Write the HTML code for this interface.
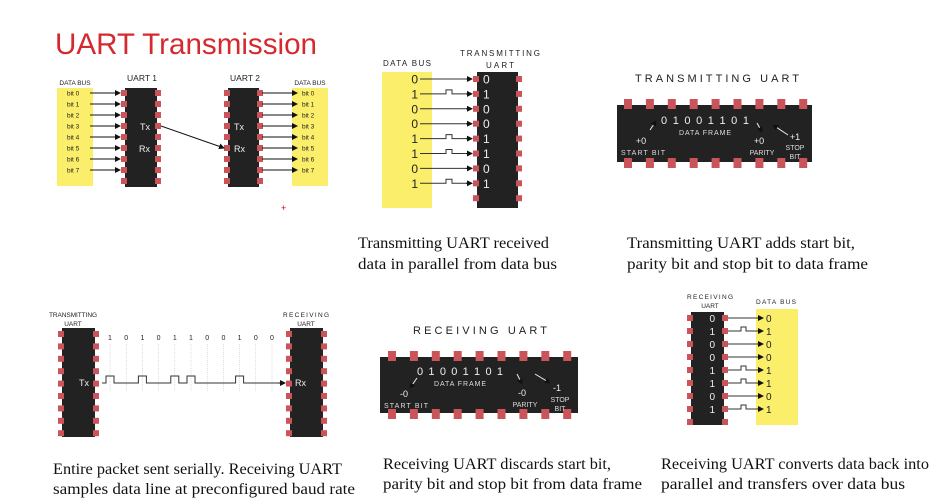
<!DOCTYPE html>
<html><head><meta charset="utf-8"><style>
html,body{margin:0;padding:0;background:#fff;}
svg{display:block;}
.cap{font-family:"Liberation Serif",serif;font-size:15.5px;fill:#111;}
</style></head><body>
<svg id="s" width="934" height="502" viewBox="0 0 934 502" xmlns="http://www.w3.org/2000/svg">
<defs><marker id="ah" markerWidth="6" markerHeight="6" refX="5" refY="3" orient="auto"><path d="M0,0 L6,3 L0,6 z" fill="#111"/></marker></defs>
<text x="55" y="54" font-family="Liberation Sans,sans-serif" font-size="30" fill="#d42a2f" textLength="262" lengthAdjust="spacingAndGlyphs">UART Transmission</text>
<g id="g"></g>
<text class="cap" x="358" y="248" textLength="191" lengthAdjust="spacingAndGlyphs">Transmitting UART received</text>
<text class="cap" x="358" y="269" textLength="199" lengthAdjust="spacingAndGlyphs">data in parallel from data bus</text>
<text class="cap" x="627" y="248" textLength="228" lengthAdjust="spacingAndGlyphs">Transmitting UART adds start bit,</text>
<text class="cap" x="627" y="269" textLength="241" lengthAdjust="spacingAndGlyphs">parity bit and stop bit to data frame</text>
<text class="cap" x="53" y="474" textLength="289" lengthAdjust="spacingAndGlyphs">Entire packet sent serially. Receiving UART</text>
<text class="cap" x="53" y="494" textLength="302" lengthAdjust="spacingAndGlyphs">samples data line at preconfigured baud rate</text>
<text class="cap" x="383" y="469" textLength="228" lengthAdjust="spacingAndGlyphs">Receiving UART discards start bit,</text>
<text class="cap" x="383" y="489" textLength="259" lengthAdjust="spacingAndGlyphs">parity bit and stop bit from data frame</text>
<text class="cap" x="661" y="469" textLength="268" lengthAdjust="spacingAndGlyphs">Receiving UART converts data back into</text>
<text class="cap" x="661" y="489" textLength="244" lengthAdjust="spacingAndGlyphs">parallel and transfers over data bus</text>
<text x="281" y="211" font-size="9" fill="#d00" font-family="Liberation Sans,sans-serif">+</text>
</svg>
<script>
const busBits=[0,1,0,0,1,1,0,1];
const serialBits=[1,0,1,0,1,1,0,0,1,0,0];
const frameText="0 1 0 0 1 1 0 1";
const NS="http://www.w3.org/2000/svg";
const G=document.getElementById('g');
function mk(tag,at,txt){const e=document.createElementNS(NS,tag);for(const k in at)e.setAttribute(k,at[k]);if(txt!==undefined)e.textContent=txt;G.appendChild(e);return e;}
function rect(x,y,w,h,f,name){const e=mk('rect',{x:x,y:y,width:w,height:h,fill:f});


return e;}
function txt(x,y,s,size,anchor,name,fill,len){const e=mk('text',{x:x,y:y,'font-size':size,'text-anchor':anchor||'start','font-family':'Liberation Sans,sans-serif',fill:fill||'#222'},s);
if(len){e.setAttribute('textLength',len);e.setAttribute('lengthAdjust','spacing');}


return e;}
function line(x1,y1,x2,y2,name,arrow,w,c){const e=mk('line',{x1:x1,y1:y1,x2:x2,y2:y2,stroke:c||'#111','stroke-width':w||1});if(arrow)e.setAttribute('marker-end','url(#ah)');


return e;}
function path(d,name,w,c){const e=mk('path',{d:d,fill:'none',stroke:c||'#333','stroke-width':w||1});


return e;}
const PIN='#c9555a';
function vchip(x,y,w,h,y0,step,name){rect(x,y,w,h,'#222',name);
for(let i=0;i<9;i++){const py=y0+i*step;rect(x-4,py-3,6,6,PIN,name+'-pin-left');rect(x+w-2,py-3,6,6,PIN,name+'-pin-right');}}
function hchip(x,y,w,h,x0,step,name){rect(x,y,w,h,'#222',name);
for(let i=0;i<9;i++){const px=x0+i*step;rect(px-4,y-6,8,10,PIN,name+'-pin-top');rect(px-4,y+h-4,8,10,PIN,name+'-pin-bottom');}}

// Panel 1
rect(57,88,36,98,'#fbee6a','data-bus-1');
rect(292,88,36,98,'#fbee6a','data-bus-2');
txt(75,85,'DATA BUS',6.5,'middle','data-bus-1-label');
txt(310,85,'DATA BUS',6.5,'middle','data-bus-2-label');
txt(142,81,'UART 1',8.5,'middle','uart1-label','#222',30);
txt(245,81,'UART 2',8.5,'middle','uart2-label','#222',30);
vchip(125,88,32,99,93,11,'uart1-chip');
vchip(228,88,31,99,93,11,'uart2-chip');
for(let i=0;i<8;i++){const y=93+i*11;
txt(67,y+2.5,'bit '+i,6.5,'start','bit-label-left');
line(90,y,120,y,'bit-arrow-left',true);
line(262,y,297,y,'bit-arrow-right',true);
txt(302,y+2.5,'bit '+i,6.5,'start','bit-label-right');}
txt(150,130,'Tx',9,'end','uart1-tx',"#eee");txt(150,152,'Rx',9,'end','uart1-rx',"#eee");
txt(234,130,'Tx',9,'start','uart2-tx',"#eee");txt(234,152,'Rx',9,'start','uart2-rx',"#eee");
line(161,126,224,148,'tx-to-rx-arrow',true);

// Panel 2
rect(382,72,50,136,'#fbee6a','data-bus-parallel');
txt(407,66,'DATA BUS',8,'middle','data-bus-parallel-label','#222',48);
txt(500,56,'TRANSMITTING',8,'middle','transmitting-uart-label-1','#222',80);
txt(500,68,'UART',8,'middle','transmitting-uart-label-2','#222',28);
vchip(477,72,41,136,79,14.9,'transmitting-uart-chip');
busBits.forEach((b,i)=>{const y=79+i*14.9;
txt(418,y+4.5,String(b),12,'end','bus-bit-value');
if(b)path(`M420,${y} H446 V${y-4} H452 V${y} H471`,'bit-line-high');else path(`M420,${y} H471`,'bit-line-low');
line(466,y,472,y,'bit-arrow-head',true);
txt(483,y+4.5,String(b),12,'start','chip-bit-value','#eee');});

// Panel 3
txt(717,82,'TRANSMITTING UART',11,'middle','transmitting-uart-title','#222',164);
hchip(617,105,195,57,628,21.9,'transmitting-frame-chip');
txt(705,124,frameText,11,'middle','data-frame-bits','#eee',88);
txt(705,135,'DATA FRAME',7,'middle','data-frame-label','#ddd',52);
line(650,130,656,121,'start-arrow',true,1,'#eee');
txt(641,144,'+0',9,'middle','start-bit-value','#eee');txt(643,155,'START BIT',7,'middle','start-bit-label','#ddd',44);
line(757,123,762,132,'parity-arrow',true,1,'#eee');
txt(759,144,'+0',9,'middle','parity-value','#eee');txt(762,155,'PARITY',7,'middle','parity-label','#ddd');
line(788,135,773,125,'stop-arrow',true,1,'#eee');
txt(795,140,'+1',9,'middle','stop-bit-value','#eee');txt(795,150,'STOP',7,'middle','stop-label','#ddd');txt(795,159,'BIT',7,'middle','stop-bit-label','#ddd');

// Panel 4
txt(73,317,'TRANSMITTING',6.5,'middle','tx-uart-label-1','#222',48);txt(73,326,'UART',6.5,'middle','tx-uart-label-2');
txt(306,317,'RECEIVING',6.5,'middle','rx-uart-label-1','#222',46);txt(306,326,'UART',6.5,'middle','rx-uart-label-2');
vchip(62,328,33,109,334,12.4,'serial-tx-chip');
vchip(290,328,33,109,334,12.4,'serial-rx-chip');
txt(89,386,'Tx',9,'end','serial-tx-label','#eee');txt(295,386,'Rx',9,'start','serial-rx-label','#eee');
let d='M102,383 H106';
serialBits.forEach((b,i)=>{const x=110+i*16.2;
txt(x,340,String(b),7,'middle','serial-bit-label');
line(x,344,x,392,'bit-gridline',false,0.5,'#bbb').setAttribute('stroke-dasharray','1,1');
d+= b? ` H${x-4} V376 H${x+4} V383`:` H${x+4}`;});
d+=' H284';
path(d,'serial-waveform',1,'#333');
line(278,383,285,383,'serial-arrow-head',true);

// Panel 5
txt(480,334,'RECEIVING UART',11,'middle','receiving-uart-title','#222',134);
hchip(380,357,198,56,392,21.9,'receiving-frame-chip');
txt(460,375,frameText,11,'middle','rx-data-frame-bits','#eee',86);
txt(460,386,'DATA FRAME',7,'middle','rx-data-frame-label','#ddd',52);
line(417,378,410,388,'rx-start-arrow',true,1,'#eee');
txt(404,397,'-0',9,'middle','rx-start-value','#eee');txt(406,408,'START BIT',7,'middle','rx-start-label','#ddd',44);
line(517,374,522,384,'rx-parity-arrow',true,1,'#eee');
txt(522,396,'-0',9,'middle','rx-parity-value','#eee');txt(525,407,'PARITY',7,'middle','rx-parity-label','#ddd');
line(535,374,550,383,'rx-stop-arrow',true,1,'#eee');
txt(557,391,'-1',9,'middle','rx-stop-value','#eee');txt(560,402,'STOP',7,'middle','rx-stop-label','#ddd');txt(560,411,'BIT',7,'middle','rx-stop-bit-label','#ddd');

// Panel 6
txt(710,299,'RECEIVING',6.5,'middle','rx-parallel-label-1','#222',46);txt(710,308,'UART',6.5,'middle','rx-parallel-label-2');
txt(776,304,'DATA BUS',6.5,'middle','rx-data-bus-label','#222',40);
rect(756,309,42,116,'#fbee6a','rx-data-bus');
vchip(691,312,33,113,318,13,'rx-parallel-chip');
busBits.forEach((b,i)=>{const y=318+i*13;
txt(715,y+4,String(b),10,'end','rx-chip-bit','#eee');
if(b)path(`M728,${y} H741 V${y-4} H746 V${y} H762`,'rx-bit-line-high');else path(`M728,${y} H762`,'rx-bit-line-low');
line(758,y,763,y,'rx-bit-arrow',true);
txt(766,y+4,String(b),10,'start','rx-bus-bit');});
</script>
</body></html>
